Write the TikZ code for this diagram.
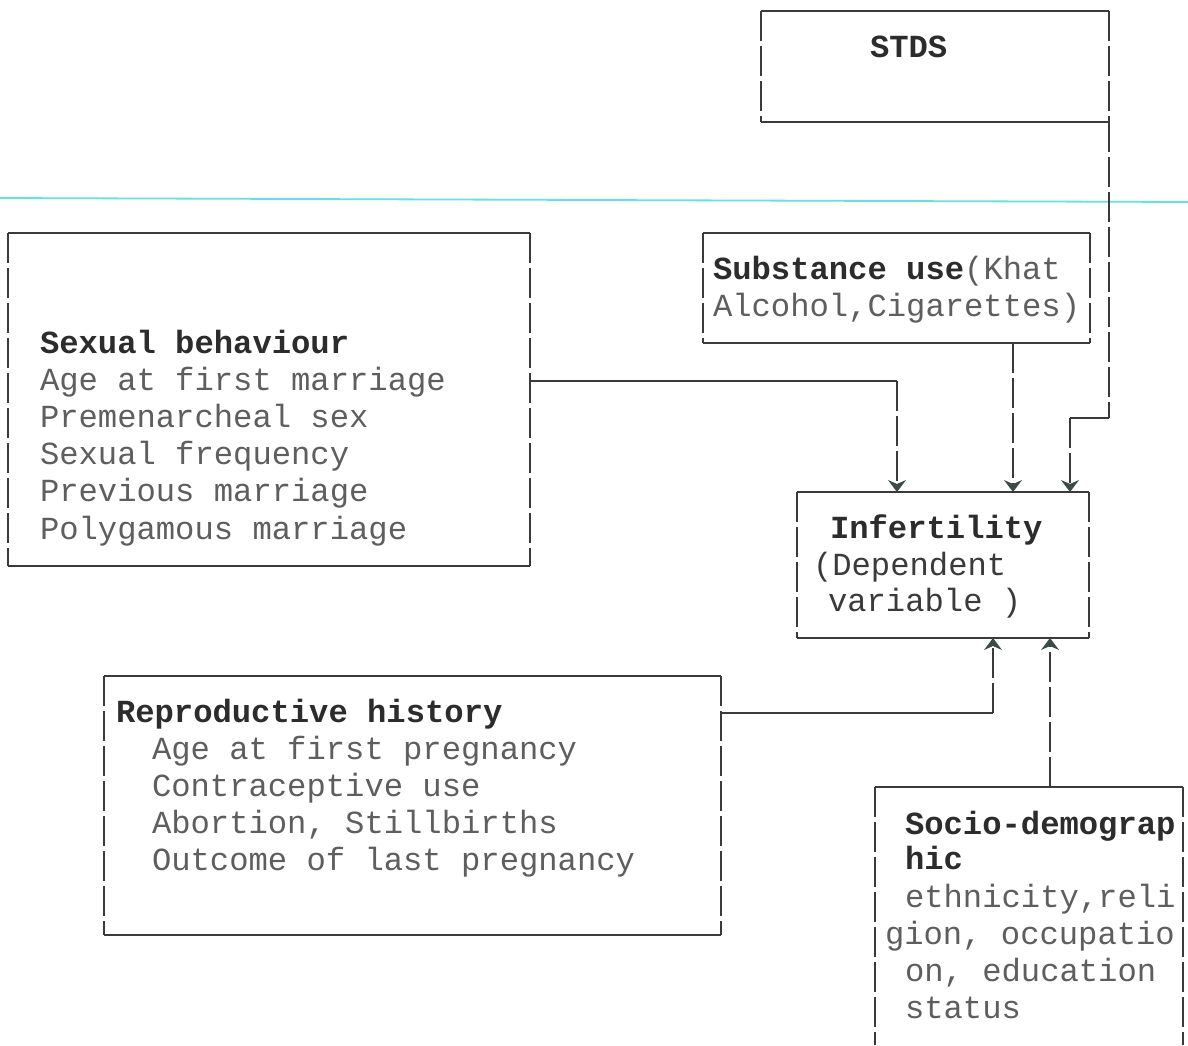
\documentclass[tikz,border=0pt]{standalone}
\usepackage{fontspec}
\usetikzlibrary{arrows.meta}
\newfontfamily\monof{Liberation Mono}
\definecolor{linec}{HTML}{3A3A3A}
\definecolor{txtc}{HTML}{5E5E5E}
\definecolor{boldc}{HTML}{2C2C2C}
\definecolor{darkc}{HTML}{3A3A3A}
\definecolor{cyanl}{HTML}{62E2E2}
\definecolor{tipc}{HTML}{3C4A48}
\tikzset{
  boxarea/.style={inner sep=0pt, outer sep=0pt},
  txt/.style={anchor=base west, inner sep=0pt, outer sep=0pt, font=\monof\fontsize{32.2}{37}\selectfont, text=txtc},
  hdr/.style={txt, font=\monof\bfseries\fontsize{32.2}{37}\selectfont, text=boldc},
  dtxt/.style={txt, text=darkc},
  hline/.style={draw=linec, line width=1.1pt},
  vline/.style={draw=linec, line width=1.1pt, dash pattern=on 30pt off 5pt},
  arr/.style={-{Stealth[length=12pt,width=18pt,inset=4pt,color=tipc]}}
}
\newcommand{\drawboxedges}[1]{%
  \draw[hline] (#1.north west) -- (#1.north east);
  \draw[hline] (#1.south west) -- (#1.south east);
  \draw[vline] (#1.north west) -- (#1.south west);
  \draw[vline] (#1.north east) -- (#1.south east);
}
\begin{document}
\begin{tikzpicture}[x=1pt,y=-1pt]
\useasboundingbox[fill=white] (0,0) rectangle (1188,1045);

% cyan rule
\coordinate (cyl) at (0,198);
\coordinate (cyr) at (1188,202);
\draw[cyanl, line width=1.8pt] (cyl) -- (cyr);

% boxes
\node[boxarea, minimum width=348pt, minimum height=111pt] (stds) at (935,66.5) {};
\node[boxarea, minimum width=387pt, minimum height=110pt] (sub) at (896.5,288) {};
\node[boxarea, minimum width=522pt, minimum height=333pt] (sex) at (269,399.5) {};
\node[boxarea, minimum width=292pt, minimum height=146pt] (inf) at (943,565) {};
\node[boxarea, minimum width=617pt, minimum height=259pt] (rep) at (412.5,805.5) {};
\node[boxarea, minimum width=308pt, minimum height=258pt] (soc) at (1029,916) {};

\drawboxedges{stds}
\drawboxedges{sub}
\drawboxedges{sex}
\drawboxedges{inf}
\drawboxedges{rep}
\draw[hline] (soc.north west) -- (soc.north east);
\draw[vline] (soc.north west) -- (soc.south west);
\draw[vline] (soc.north east) -- (soc.south east);

% texts
\node[hdr] (t-stds) at (870,57) {STDS};

\node[txt] (t-sub1) at (713,279) {{\bfseries\color{boldc}Substance use}(Khat};
\node[txt] (t-sub2) at (713,316) {Alcohol,Cigarettes)};

\node[hdr] (t-sex0) at (40,353) {Sexual behaviour};
\node[txt] (t-sex1) at (40,390) {Age at first marriage};
\node[txt] (t-sex2) at (40,427) {Premenarcheal sex};
\node[txt] (t-sex3) at (40,464) {Sexual frequency};
\node[txt] (t-sex4) at (40,501) {Previous marriage};
\node[txt] (t-sex5) at (40,539) {Polygamous marriage};

\node[hdr] (t-inf0) at (830,538) {Infertility};
\node[dtxt] (t-inf1) at (813,575) {(Dependent};
\node[dtxt] (t-inf2) at (828,611) {variable )};

\node[hdr] (t-rep0) at (116,722) {Reproductive history};
\node[txt] (t-rep1) at (152,759) {Age at first pregnancy};
\node[txt] (t-rep2) at (152,796) {Contraceptive use};
\node[txt] (t-rep3) at (152,833) {Abortion, Stillbirths};
\node[txt] (t-rep4) at (152,870) {Outcome of last pregnancy};

\node[hdr] (t-soc0) at (905,834) {Socio-demograp};
\node[hdr] (t-soc1) at (905,869) {hic};
\node[txt] (t-soc2) at (905,907) {ethnicity,reli};
\node[txt] (t-soc3) at (885,944) {gion, occupatio};
\node[txt] (t-soc4) at (905,981) {on, education};
\node[txt] (t-soc5) at (905,1018) {status};

% connectors
\coordinate (c1) at (897,381);
\draw[hline] (sex.east |- c1) -- (c1);
\draw[vline,arr] (c1) -- (inf.north -| c1);

\coordinate (c2) at (1013,0);
\draw[vline,arr] (sub.south -| c2) -- (inf.north -| c2);

\coordinate (c3) at (1109,418);
\coordinate (c4) at (1070,418);
\draw[vline] (stds.south east) -- (c3);
\draw[hline] (c3) -- (c4);
\draw[vline,arr] (c4) -- (inf.north -| c4);

\coordinate (c5) at (993,713);
\draw[hline] (rep.east |- c5) -- (c5);
\draw[vline,arr] (c5) -- (inf.south -| c5);

\coordinate (c6) at (1050,0);
\draw[vline,arr] (soc.north -| c6) -- (inf.south -| c6);
\end{tikzpicture}
\end{document}
